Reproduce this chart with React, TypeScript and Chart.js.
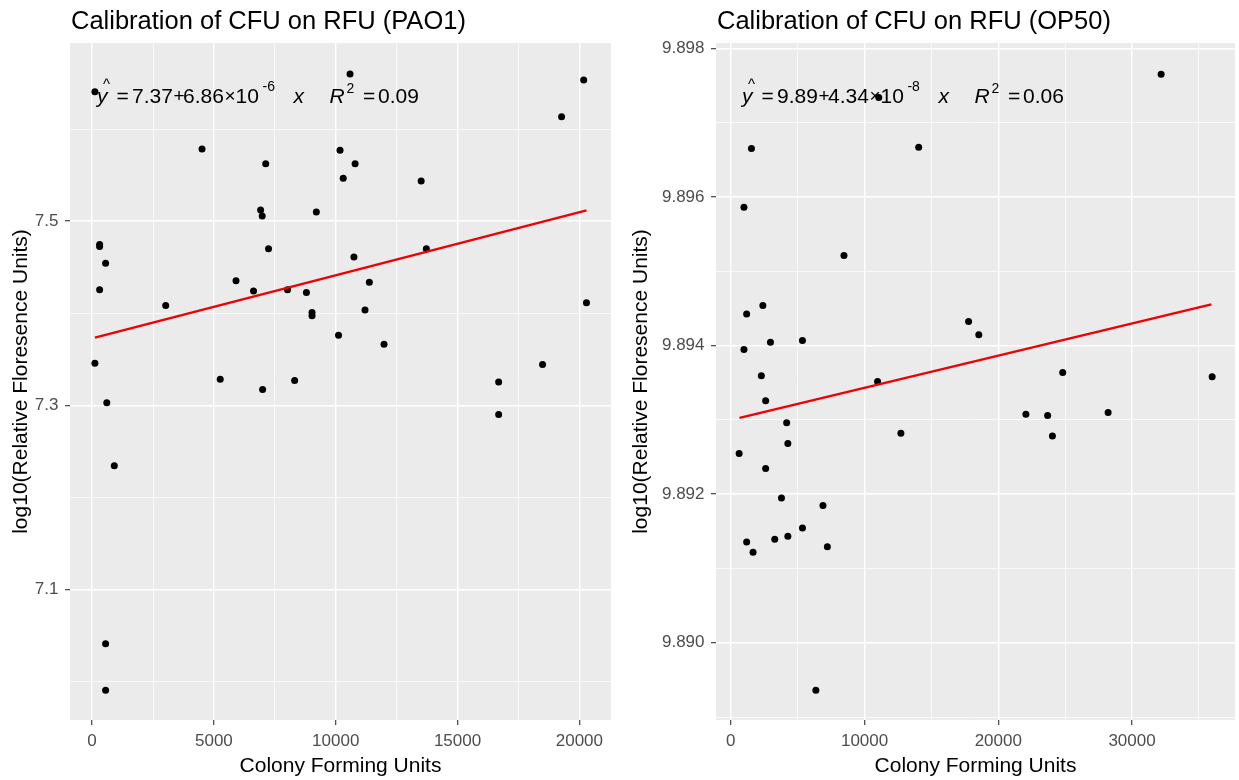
import React, { useEffect, useRef } from "react";
import { Chart, registerables } from "chart.js";

Chart.register(...registerables);

const FONT = '"Liberation Sans", Arial, Helvetica, sans-serif';

// ---------- PAO1 panel ----------
const pao1Title = "Calibration of CFU on RFU (PAO1)";
const pao1CFU = [
  115, 10587, 20177, 19269, 4512, 10177, 7126, 10795, 10308, 13506,
  6917, 6983, 9204, 309, 309, 7241, 13719, 10747, 554, 309,
  5907, 6625, 8021, 8797, 9027, 9027, 11379, 11202, 3021, 20291,
  10115, 11982, 115, 18489, 5259, 8313, 6999, 16687, 603, 16687,
  911, 554, 554,
];
const pao1LogRFU = [
  7.6406, 7.6598, 7.6533, 7.6135, 7.5784, 7.577, 7.5624, 7.5624, 7.5466, 7.5437,
  7.5122, 7.5056, 7.51, 7.4745, 7.4723, 7.4701, 7.4701, 7.4611, 7.4543, 7.4253,
  7.4351, 7.4242, 7.4253, 7.4224, 7.4007, 7.3971, 7.4337, 7.4033, 7.4083, 7.4112,
  7.3761, 7.3663, 7.3457, 7.3442, 7.3283, 7.3268, 7.317, 7.3251, 7.3026, 7.2899,
  7.2342, 7.0409, 6.9903,
];
const pao1FitCFU = [115, 20291];
const pao1FitLogRFU = [7.3735, 7.5117];
const pao1XMajor = [0, 5000, 10000, 15000, 20000];
const pao1XLabels = ["0", "5000", "10000", "15000", "20000"];
const pao1XMinor = [2500, 7500, 12500, 17500];
const pao1YMajor = [7.1, 7.3, 7.5];
const pao1YLabels = ["7.1", "7.3", "7.5"];
const pao1YMinor = [7.0, 7.2, 7.4, 7.6];
const pao1XRange = [-907, 21298];
const pao1YRange = [6.958, 7.6935];
const pao1Equation = ["7.37", "6.86", "-6", "0.09"];

// ---------- OP50 panel ----------
const op50Title = "Calibration of CFU on RFU (OP50)";
const op50CFU = [
  32176, 11062, 1541, 14046, 980, 8459, 2393, 1182, 17778, 18541,
  980, 2962, 5355, 2281, 10972, 24817, 35991, 2603, 22064, 23688,
  28212, 4174, 12715, 24047, 4263, 621, 2603, 3785, 6889, 5355,
  1182, 1660, 3283, 4263, 7218, 6357,
];
const op50LogRFU = [
  9.89765, 9.897336, 9.896649, 9.896667, 9.89586, 9.89521, 9.894539, 9.894422, 9.894323, 9.894144,
  9.893946, 9.894044, 9.894067, 9.893592, 9.893515, 9.893636, 9.893579, 9.893255, 9.893075, 9.893057,
  9.893098, 9.89296, 9.89282, 9.89278, 9.89268, 9.892545, 9.892343, 9.891948, 9.891848, 9.891544,
  9.891356, 9.891217, 9.891392, 9.891432, 9.891292, 9.889359,
];
const op50FitCFU = [651, 35932];
const op50FitLogRFU = [9.893026, 9.894552];
const op50XMajor = [0, 10000, 20000, 30000];
const op50XLabels = ["0", "10000", "20000", "30000"];
const op50XMinor = [5000, 15000, 25000, 35000];
const op50YMajor = [9.89, 9.892, 9.894, 9.896, 9.898];
const op50YLabels = ["9.890", "9.892", "9.894", "9.896", "9.898"];
const op50YMinor = [9.889, 9.891, 9.893, 9.895, 9.897];
const op50XRange = [-1110, 37700];
const op50YRange = [9.88896, 9.89807];
const op50Equation = ["9.89", "4.34", "-8", "0.06"];

const xAxisTitle = "Colony Forming Units";
const yAxisTitle = "log10(Relative Floresence Units)";

type PanelCfg = {
  title: string;
  cfu: number[];
  rfu: number[];
  fitX: number[];
  fitY: number[];
  xMajor: number[];
  xLabels: string[];
  xMinor: number[];
  yMajor: number[];
  yLabels: string[];
  yMinor: number[];
  xRange: number[];
  yRange: number[];
  eq: string[];
  yAxisWidth: number;
  padRight: number;
};

const panels: PanelCfg[] = [
  {
    title: pao1Title, cfu: pao1CFU, rfu: pao1LogRFU, fitX: pao1FitCFU, fitY: pao1FitLogRFU,
    xMajor: pao1XMajor, xLabels: pao1XLabels, xMinor: pao1XMinor,
    yMajor: pao1YMajor, yLabels: pao1YLabels, yMinor: pao1YMinor,
    xRange: pao1XRange, yRange: pao1YRange, eq: pao1Equation,
    yAxisWidth: 70, padRight: 9,
  },
  {
    title: op50Title, cfu: op50CFU, rfu: op50LogRFU, fitX: op50FitCFU, fitY: op50FitLogRFU,
    xMajor: op50XMajor, xLabels: op50XLabels, xMinor: op50XMinor,
    yMajor: op50YMajor, yLabels: op50YLabels, yMinor: op50YMinor,
    xRange: op50XRange, yRange: op50YRange, eq: op50Equation,
    yAxisWidth: 96, padRight: 4,
  },
];

const idxOf = (arr: number[], v: number) => arr.findIndex((m) => Math.abs(m - v) < 1e-7);

function drawEquation(ctx: CanvasRenderingContext2D, x0: number, base: number, eq: string[]) {
  const big = `21px ${FONT}`;
  const bigI = `italic 21px ${FONT}`;
  const op = `19px ${FONT}`;
  const small = `14px ${FONT}`;
  ctx.save();
  ctx.fillStyle = "#000000";
  ctx.textAlign = "left";
  ctx.textBaseline = "alphabetic";
  const put = (t: string, dx: number, font: string, dy = 0) => {
    ctx.font = font;
    ctx.fillText(t, x0 + dx, base + dy);
  };
  put("y", 0, bigI);
  put("^", 6, `15px ${FONT}`, -14);
  put("=", 19.5, big);
  put(eq[0], 35, big);
  put("+", 76.5, op, -0.8);
  put(eq[1], 86, big);
  put("×", 127.5, op, -0.6);
  put("10", 138.5, big);
  put(eq[2], 165.5, small, -12.5);
  put("x", 196.5, bigI);
  put("R", 232.5, bigI);
  put("2", 249.5, small, -10);
  put("=", 266, big);
  put(eq[3], 281, big);
  ctx.restore();
}

function Panel({ cfg, left, width }: { cfg: PanelCfg; left: number; width: number }) {
  const ref = useRef<HTMLCanvasElement>(null);

  useEffect(() => {
    const canvas = ref.current;
    if (!canvas) return;

    const deco = {
      id: "deco",
      beforeDraw(chart: any) {
        const { ctx, chartArea: a } = chart;
        ctx.save();
        ctx.fillStyle = "#EBEBEB";
        ctx.fillRect(a.left, a.top, a.right - a.left, a.bottom - a.top);
        ctx.fillStyle = "#000000";
        ctx.font = `25.5px ${FONT}`;
        ctx.textAlign = "left";
        ctx.textBaseline = "alphabetic";
        ctx.fillText(cfg.title, a.left + 1, 29);
        ctx.restore();
      },
      afterDatasetsDraw(chart: any) {
        const { ctx, chartArea: a } = chart;
        drawEquation(ctx, a.left + 0.05 * (a.right - a.left), a.top + 60, cfg.eq);
      },
    };

    const mkTicks = (maj: number[], min: number[]) =>
      [...maj, ...min].sort((p, q) => p - q).map((v) => ({ value: v }));

    const gridCommon = (maj: number[]) => ({
      color: "#FFFFFF",
      lineWidth: (c: any) => (c.tick && idxOf(maj, c.tick.value) >= 0 ? 1.4 : 0.7),
      tickLength: 5,
      tickWidth: 1.1,
      tickColor: (c: any) => (c.tick && idxOf(maj, c.tick.value) >= 0 ? "#333333" : "rgba(0,0,0,0)"),
      drawTicks: true,
      drawOnChartArea: true,
    });

    const chart = new Chart(canvas, {
      type: "scatter",
      data: {
        datasets: [
          {
            type: "line",
            data: cfg.fitX.map((x, i) => ({ x, y: cfg.fitY[i] })),
            borderColor: "#F00000",
            borderWidth: 2.4,
            pointRadius: 0,
            fill: false,
            tension: 0,
          } as any,
          {
            type: "scatter",
            data: cfg.cfu.map((x, i) => ({ x, y: cfg.rfu[i] })),
            backgroundColor: "#000000",
            borderWidth: 0,
            pointRadius: 3.5,
            pointHoverRadius: 3.5,
          } as any,
        ],
      },
      options: {
        responsive: false,
        maintainAspectRatio: false,
        devicePixelRatio: 1,
        animation: false,
        events: [],
        layout: { padding: { top: 43, right: cfg.padRight, left: 0, bottom: 0 } },
        plugins: {
          legend: { display: false },
          tooltip: { enabled: false },
          title: { display: false },
        },
        scales: {
          x: {
            type: "linear",
            position: "bottom",
            min: cfg.xRange[0],
            max: cfg.xRange[1],
            afterBuildTicks: (s: any) => {
              s.ticks = mkTicks(cfg.xMajor, cfg.xMinor);
            },
            afterFit: (s: any) => {
              s.height = 60;
            },
            ticks: {
              autoSkip: false,
              maxRotation: 0,
              minRotation: 0,
              padding: 6,
              color: "#4D4D4D",
              font: { family: FONT, size: 17 },
              callback: (v: any) => {
                const i = idxOf(cfg.xMajor, Number(v));
                return i >= 0 ? cfg.xLabels[i] : "";
              },
            },
            grid: gridCommon(cfg.xMajor) as any,
            border: { display: false },
            title: {
              display: true,
              text: xAxisTitle,
              color: "#000000",
              font: { family: FONT, size: 21 },
              padding: { top: 0, bottom: 1 },
            },
          },
          y: {
            type: "linear",
            position: "left",
            min: cfg.yRange[0],
            max: cfg.yRange[1],
            afterBuildTicks: (s: any) => {
              s.ticks = mkTicks(cfg.yMajor, cfg.yMinor);
            },
            afterFit: (s: any) => {
              s.width = cfg.yAxisWidth;
            },
            ticks: {
              autoSkip: false,
              padding: 6.5,
              color: "#4D4D4D",
              font: { family: FONT, size: 17 },
              callback: (v: any) => {
                const i = idxOf(cfg.yMajor, Number(v));
                return i >= 0 ? cfg.yLabels[i] : "";
              },
            },
            grid: gridCommon(cfg.yMajor) as any,
            border: { display: false },
            title: {
              display: true,
              text: yAxisTitle,
              color: "#000000",
              font: { family: FONT, size: 21 },
              padding: { top: 9, bottom: 0 },
            },
          },
        },
      },
      plugins: [deco],
    } as any);

    return () => {
      chart.destroy();
    };
  }, [cfg]);

  return (
    <canvas
      ref={ref}
      width={width}
      height={780}
      style={{ position: "absolute", left, top: 0, width, height: 780, display: "block" }}
    />
  );
}

export default function App() {
  return (
    <div
      style={{
        position: "fixed",
        left: 0,
        top: 0,
        width: 1239,
        height: 780,
        background: "#FFFFFF",
        overflow: "hidden",
      }}
    >
      <Panel cfg={panels[0]} left={0} width={620} />
      <Panel cfg={panels[1]} left={620} width={619} />
    </div>
  );
}
